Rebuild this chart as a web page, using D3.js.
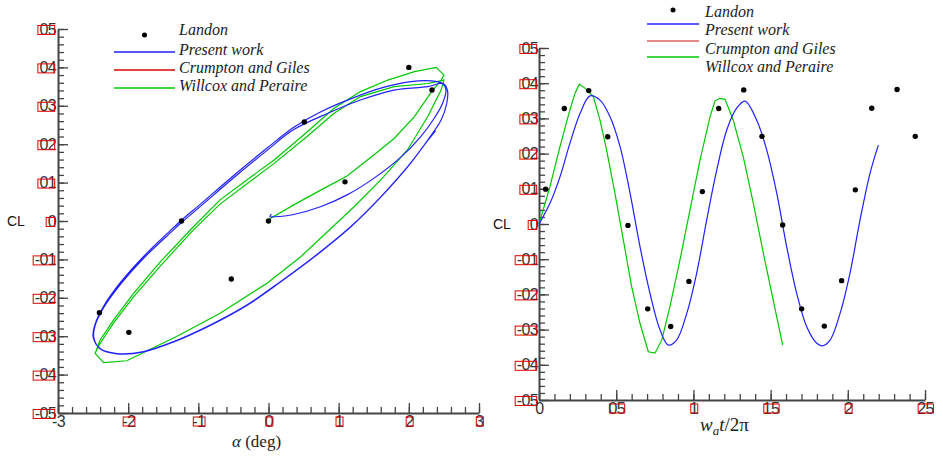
<!DOCTYPE html>
<html>
<head>
<meta charset="utf-8">
<script src="https://cdn.jsdelivr.net/npm/d3@7"></script>
<style>
  body { margin: 0; background: #fff; }
  svg { display: block; }
  .tick text { font-family: "Liberation Sans", Arial, sans-serif; font-size: 16px; fill: #333; letter-spacing: -0.6px; }
  .leg { font-family: "Liberation Serif", "Times New Roman", serif; font-style: italic; font-size: 16px; fill: #222; }
  .cl { font-family: "Liberation Sans", Arial, sans-serif; font-size: 14px; fill: #111; }
  .xt { font-family: "Liberation Serif", "Times New Roman", serif; fill: #222; }
</style>
</head>
<body>
<svg id="chart" width="943" height="460"></svg>
<script>
// ---- data: left panel (CL vs alpha) ----
const yTickValues = [-0.5, -0.4, -0.3, -0.2, -0.1, 0, 0.1, 0.2, 0.3, 0.4, 0.5];
const yTickLabels = ["-05", "-04", "-03", "-02", "-01", "0", "01", "02", "03", "04", "05"];
const alphaTickValues = [-3, -2, -1, 0, 1, 2, 3];
const alphaTickLabels = ["-3", "-2", "-1", "0", "1", "2", "3"];
const timeTickValues = [0, 0.5, 1, 1.5, 2, 2.5];
const timeTickLabels = ["0", "05", "1", "15", "2", "25"];

const legendNames = ["Landon", "Present work", "Crumpton and Giles", "Willcox and Peraire"];

const landonAlpha = [2.00, 2.33, 0.51, 1.09, 0.00, -1.24, -0.53, -2.41, -1.99];
const landonAlphaCL = [0.400, 0.341, 0.258, 0.102, 0.000, 0.000, -0.151, -0.239, -0.290];

const presentAlpha = [0.04, 0.02, 0.08, 0.36, 0.74, 1.12, 1.50, 1.89, 2.17, 2.36, 2.48, 2.53, 2.48, 2.31, 2.03,
  1.60, 1.17, 0.74, 0.36, -0.02, -0.50, -0.97, -1.24, -1.40, -1.78, -2.11, -2.35, -2.47, -2.50, -2.40, -2.16, -1.78,
  -1.35, -0.83, -0.31, 0.17, 0.65, 1.17, 1.60, 1.98, 2.27, 2.46, 2.54, 2.55, 2.49, 2.27, 1.79, 1.31, 0.84, 0.36,
  -0.02, -0.50, -0.97, -1.24, -1.40, -1.78, -2.11, -2.35, -2.47, -2.49, -2.40, -2.16, -1.78, -1.35, -0.83, -0.31, 0.17,
  0.65, 1.17, 1.60, 1.98, 2.27, 2.38];
const presentAlphaCL = [0.018, 0.011, 0.011, 0.017, 0.037, 0.068, 0.111, 0.167, 0.220, 0.267, 0.306, 0.341, 0.358, 0.365, 0.363,
  0.346, 0.318, 0.284, 0.244, 0.190, 0.118, 0.044, 0.002, -0.025, -0.092, -0.160, -0.222, -0.268, -0.301, -0.332, -0.345, -0.340,
  -0.314, -0.271, -0.219, -0.158, -0.093, -0.015, 0.063, 0.141, 0.211, 0.263, 0.306, 0.341, 0.358, 0.350, 0.341, 0.315, 0.280, 0.238,
  0.184, 0.112, 0.038, -0.004, -0.031, -0.097, -0.165, -0.226, -0.272, -0.303, -0.333, -0.346, -0.341, -0.315, -0.272, -0.220, -0.159,
  -0.094, -0.016, 0.062, 0.140, 0.210, 0.235];

const willcoxAlpha = [0.00, 0.36, 0.79, 1.12, 1.50, 1.79, 2.08, 2.31, 2.46, 2.50, 2.39, 2.08, 1.70, 1.31, 0.93, 0.50,
  0.08, -0.31, -0.69, -1.07, -1.54, -1.92, -2.21, -2.40, -2.47, -2.35, -2.02, -1.31, -0.69, -0.02, 0.46, 0.84, 1.22,
  1.60, 1.98, 2.27, 2.46, 2.50, 2.27, 1.79, 1.31, 0.93, 0.55, 0.08, -0.69, -1.07, -1.54, -1.92, -2.21, -2.40, -2.46];
const willcoxAlphaCL = [0.004, 0.042, 0.085, 0.117, 0.172, 0.215, 0.272, 0.333, 0.367, 0.380, 0.400, 0.389, 0.367, 0.337, 0.293, 0.224,
  0.159, 0.107, 0.055, -0.015, -0.106, -0.188, -0.258, -0.310, -0.345, -0.369, -0.364, -0.301, -0.240, -0.162, -0.093, -0.028, 0.037,
  0.107, 0.185, 0.272, 0.341, 0.367, 0.358, 0.350, 0.324, 0.280, 0.220, 0.150, 0.044, -0.023, -0.117, -0.197, -0.266, -0.319, -0.340];

// ---- data: right panel (CL vs w_a t / 2pi) ----
const landonTime = [0.043, 0.164, 0.322, 0.445, 0.576, 0.704, 0.853, 0.971, 1.058, 1.164, 1.326, 1.444, 1.578, 1.701,
  1.848, 1.960, 2.049, 2.155, 2.319, 2.437];
const landonTimeCL = [0.099, 0.328, 0.379, 0.248, -0.004, -0.241, -0.291, -0.163, 0.092, 0.328, 0.381, 0.249, -0.003, -0.241,
  -0.290, -0.161, 0.097, 0.329, 0.382, 0.249];

const presentTime = [0, 0.071, 0.136, 0.200, 0.266, 0.330, 0.395, 0.460, 0.525, 0.590, 0.654, 0.719, 0.784, 0.838, 0.891,
  0.957, 1.021, 1.086, 1.151, 1.216, 1.280, 1.334, 1.410, 1.475, 1.540, 1.604, 1.669, 1.734, 1.799, 1.837, 1.885, 1.950,
  2.014, 2.079, 2.144, 2.198];
const presentTimeCL = [0.000, 0.059, 0.134, 0.229, 0.314, 0.364, 0.352, 0.305, 0.220, 0.087, -0.064, -0.197, -0.301, -0.344, -0.330,
  -0.254, -0.140, 0.011, 0.153, 0.267, 0.329, 0.349, 0.295, 0.210, 0.087, -0.064, -0.197, -0.292, -0.339, -0.346, -0.330, -0.254,
  -0.140, 0.011, 0.144, 0.224];

const willcoxTime = [0, 0.071, 0.136, 0.200, 0.233, 0.261, 0.298, 0.352, 0.395, 0.438, 0.492, 0.546, 0.600, 0.654, 0.708,
  0.751, 0.795, 0.848, 0.913, 0.978, 1.043, 1.108, 1.140, 1.172, 1.205, 1.258, 1.323, 1.388, 1.453, 1.517, 1.578];
const willcoxTimeCL = [0.000, 0.106, 0.220, 0.324, 0.371, 0.397, 0.386, 0.362, 0.295, 0.210, 0.087, -0.045, -0.178, -0.282, -0.363,
  -0.367, -0.330, -0.235, -0.102, 0.040, 0.182, 0.305, 0.350, 0.357, 0.354, 0.295, 0.191, 0.059, -0.083, -0.216, -0.344];

const blue = "#2020ff", red = "#e00000", green = "#00c800";

const svg = d3.select("#chart");

function drawPanel(opt) {
  const g = svg.append("g");
  const x = d3.scaleLinear().domain(opt.xDomain).range(opt.xRange);
  const y = d3.scaleLinear().domain([-0.5, 0.5]).range(opt.yRange);

  // minor ticks first
  g.append("g")
    .attr("transform", `translate(${opt.xRange[0]},0)`)
    .call(d3.axisLeft(y).tickValues(d3.range(-0.5, 0.5001, 0.02)).tickSize(-6).tickFormat(""))
    .call(a => a.select(".domain").remove());
  g.append("g")
    .attr("transform", `translate(0,${opt.yRange[0]})`)
    .call(d3.axisBottom(x).tickValues(opt.xMinor).tickSize(-6).tickFormat(""))
    .call(a => a.select(".domain").remove());

  const yAxis = g.append("g")
    .attr("transform", `translate(${opt.xRange[0]},0)`)
    .call(d3.axisLeft(y).tickValues(yTickValues).tickSizeInner(-10).tickSizeOuter(0).tickPadding(opt.yPad)
      .tickFormat((d, i) => yTickLabels[i]));
  const xAxis = g.append("g")
    .attr("transform", `translate(0,${opt.yRange[0]})`)
    .call(d3.axisBottom(x).tickValues(opt.xTicks).tickSizeInner(-10).tickSizeOuter(0).tickPadding(3)
      .tickFormat((d, i) => opt.xLabels[i]));

  g.selectAll(".tick line").attr("stroke", "#444").attr("stroke-width", 1.3);
  g.selectAll(".domain").attr("stroke", "#444").attr("stroke-width", 2);

  // red outline boxes around tick labels
  yAxis.selectAll(".tick").each(function () {
    const t = d3.select(this).select("text");
    const bb = t.node().getBBox();
    d3.select(this).append("rect")
      .attr("x", bb.x - 1.5).attr("y", -4)
      .attr("width", Math.max(bb.width - 0.5, 6)).attr("height", 9)
      .attr("fill", "none").attr("stroke", red).attr("stroke-width", 1);
  });
  xAxis.selectAll(".tick").each(function (d, i) {
    if (i === 0) return;
    const t = d3.select(this).select("text");
    const bb = t.node().getBBox();
    d3.select(this).append("rect")
      .attr("x", bb.x + 1).attr("y", 4)
      .attr("width", Math.max(bb.width - 2, 6)).attr("height", 9)
      .attr("fill", "none").attr("stroke", red).attr("stroke-width", 1);
  });

  // CL label
  g.append("text").attr("class", "cl")
    .attr("x", opt.clX).attr("y", y(0) + 5).text("CL");

  // curves
  const line = d3.line().x(d => x(d[0])).y(d => y(d[1]));
  g.append("path")
    .datum(d3.zip(opt.willcoxX, opt.willcoxY))
    .attr("d", line.curve(d3.curveLinear))
    .attr("fill", "none").attr("stroke", green).attr("stroke-width", 1.2);
  g.append("path")
    .datum(d3.zip(opt.presentX, opt.presentY))
    .attr("d", line.curve(d3.curveCatmullRom.alpha(0.5)))
    .attr("fill", "none").attr("stroke", blue).attr("stroke-width", 1.2);

  g.selectAll("circle.landon")
    .data(d3.zip(opt.landonX, opt.landonY))
    .join("circle")
    .attr("class", "landon")
    .attr("cx", d => x(d[0])).attr("cy", d => y(d[1])).attr("r", 2.7)
    .attr("fill", "#000");

  // legend
  const L = opt.legend;
  const leg = g.append("g");
  leg.append("circle").attr("cx", (L.x0 + L.x1) / 2).attr("cy", L.dotY).attr("r", 2.5).attr("fill", "#000");
  [blue, L.red, green].forEach((c, i) => {
    leg.append("line")
      .attr("x1", L.x0).attr("x2", L.x1)
      .attr("y1", L.lines[i]).attr("y2", L.lines[i])
      .attr("stroke", c).attr("stroke-width", 1.3);
  });
  legendNames.forEach((n, i) => {
    leg.append("text").attr("class", "leg")
      .attr("x", L.tx).attr("y", L.base[i]).text(n);
  });
}

drawPanel({
  xDomain: [-3, 3], xRange: [58, 479], yRange: [413, 29],
  xTicks: alphaTickValues, xLabels: alphaTickLabels,
  xMinor: d3.range(-3, 3.001, 0.2), yPad: 2, clX: 7,
  landonX: landonAlpha, landonY: landonAlphaCL,
  presentX: presentAlpha, presentY: presentAlphaCL,
  willcoxX: willcoxAlpha, willcoxY: willcoxAlphaCL,
  legend: { x0: 114, x1: 175, tx: 179, dotY: 35, lines: [52, 70, 88], base: [35, 54.5, 72.5, 91], red: red }
});

drawPanel({
  xDomain: [0, 2.5], xRange: [539, 925], yRange: [400, 48],
  xTicks: timeTickValues, xLabels: timeTickLabels,
  xMinor: d3.range(0, 2.5001, 0.1), yPad: 1, clX: 493,
  landonX: landonTime, landonY: landonTimeCL,
  presentX: presentTime, presentY: presentTimeCL,
  willcoxX: willcoxTime, willcoxY: willcoxTimeCL,
  legend: { x0: 647, x1: 699, tx: 705, dotY: 10, lines: [24, 41, 57], base: [16.5, 35, 53.5, 72], red: "#e06060" }
});

// axis titles
const t1 = svg.append("text").attr("class", "xt").attr("x", 232).attr("y", 447).style("font-size", "17px");
t1.append("tspan").style("font-style", "italic").text("α");
t1.append("tspan").text(" (deg)");

const t2 = svg.append("text").attr("class", "xt").attr("x", 700).attr("y", 431).style("font-size", "19px");
t2.append("tspan").style("font-style", "italic").text("w");
t2.append("tspan").style("font-style", "italic").style("font-size", "13px").attr("dy", 4).text("a");
t2.append("tspan").style("font-style", "italic").attr("dy", -4).text("t");
t2.append("tspan").text("/2π");
</script>
</body>
</html>
